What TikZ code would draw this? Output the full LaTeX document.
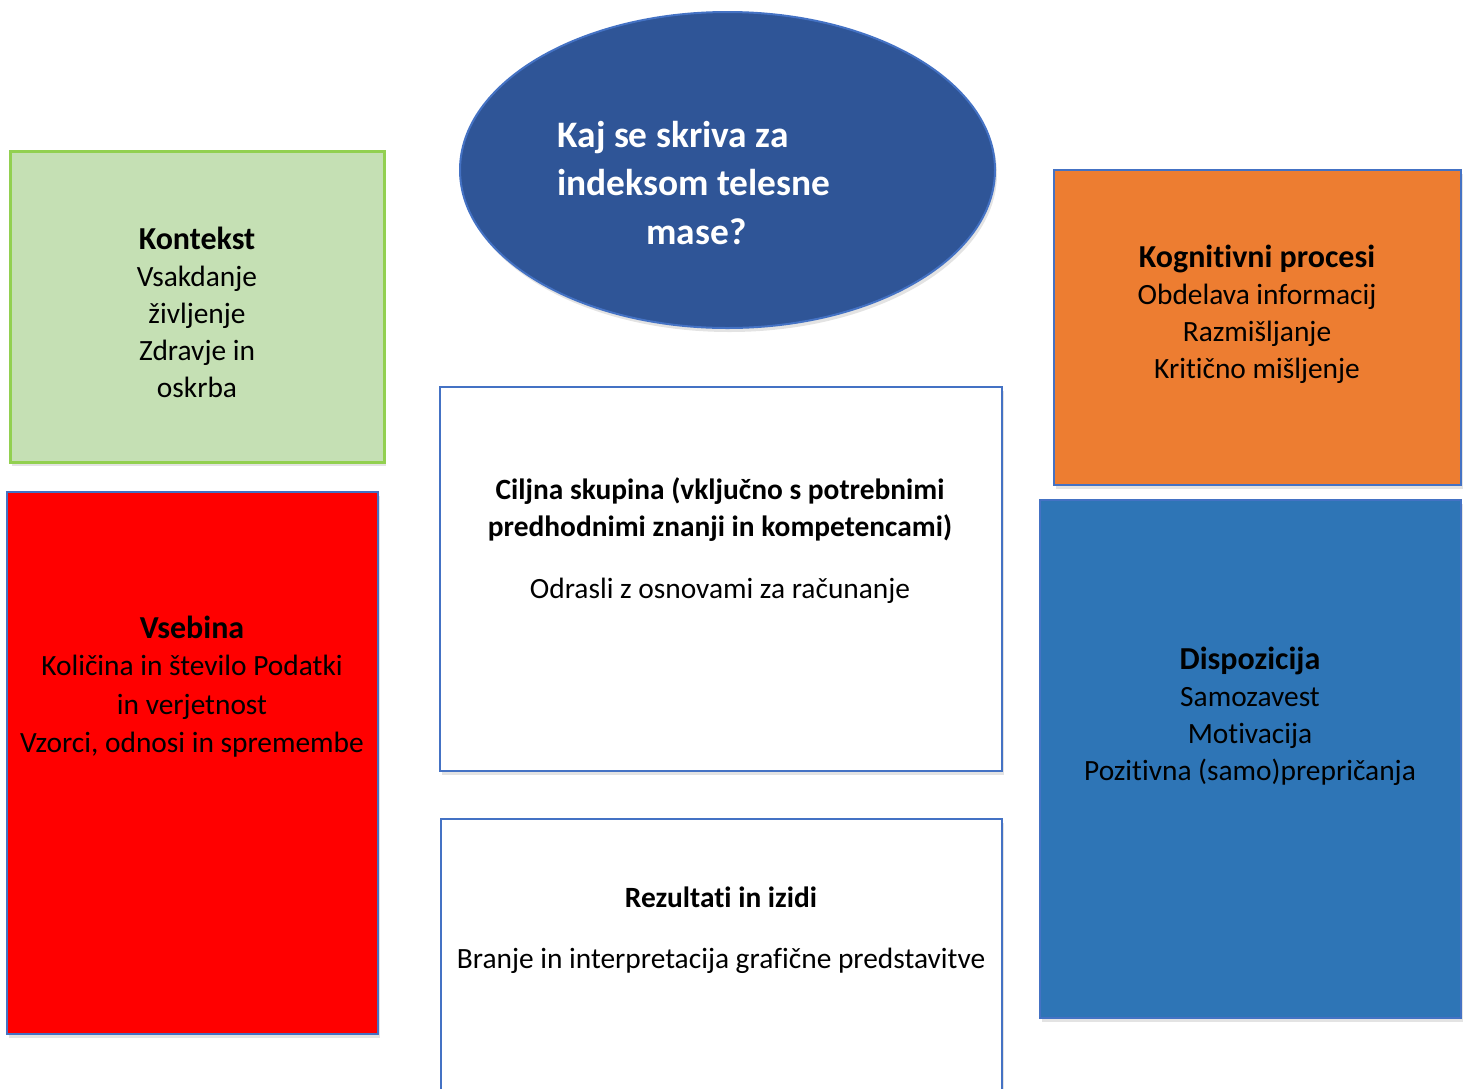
\documentclass[tikz,border=0pt]{standalone}
\usepackage{fontspec}
\setmainfont{Carlito}[Ligatures=NoCommon]
\usetikzlibrary{shapes.geometric, positioning, shadows}
\definecolor{colgreen}{HTML}{C5E0B4}
\definecolor{colgreenline}{HTML}{92D050}
\definecolor{colnavy}{HTML}{2F5597}
\definecolor{colframe}{HTML}{4472C4}
\definecolor{colorange}{HTML}{ED7D31}
\definecolor{colred}{HTML}{FF0000}
\definecolor{colblue}{HTML}{2E75B6}
\newcommand{\hd}[1]{{\fontsize{16}{18.5}\selectfont\bfseries #1}}

\begin{document}
\begin{tikzpicture}[x=0.5pt, y=-0.5pt,
  box/.style={rectangle, draw=colframe, line width=1pt, inner sep=0pt,
              drop shadow={opacity=0.22, shadow xshift=1pt, shadow yshift=-2pt}},
  ctxbox/.style={box, draw=colgreenline, line width=1.5pt, fill=colgreen},
  cogbox/.style={box, fill=colorange},
  contbox/.style={box, fill=colred},
  dispbox/.style={box, fill=colblue},
  plainbox/.style={box, fill=white},
  bubble/.style={ellipse, draw=colframe, line width=1pt, fill=colnavy, inner sep=0pt,
                 minimum width=267.5pt, minimum height=158pt,
                 drop shadow={opacity=0.22, shadow xshift=1pt, shadow yshift=-2pt}},
  txt/.style={align=center, inner sep=0pt, font=\fontsize{14.7}{18.5}\selectfont},
  ttl/.style={align=left, inner sep=0pt, text=white,
              font=\fontsize{18.7}{24.2}\selectfont\bfseries}
]
\useasboundingbox (0,0) rectangle (1467,1088);

% Central question
\node[bubble] (bmi) at (727.5,170) {};
\node[ttl] (bmiText) at (694,183)
    {Kaj se skriva za\\indeksom telesne\\\hspace*{44.5pt}mase?};

% Context (left top)
\node[ctxbox, minimum width=187pt, minimum height=155.5pt] (ctx) at (197,306.5) {};
\node[txt] (ctxText) at (197,312)
    {\hd{Kontekst}\\Vsakdanje\\življenje\\Zdravje in\\oskrba};

% Content (left bottom)
\node[contbox, minimum width=185.5pt, minimum height=271pt] (cont) at (192.5,763) {};
\node[txt] (contText) at (192,687)
    {\hd{Vsebina}\\Količina in število Podatki\\[0.8pt]in verjetnost\\[0.8pt]Vzorci, odnosi in spremembe};

% Target group (middle)
\node[plainbox, minimum width=281pt, minimum height=192pt] (grp) at (721,579) {};
\node[txt] (grpText) at (720,541)
    {\textbf{Ciljna skupina (vključno s potrebnimi}\\
     \textbf{predhodnimi znanji in kompetencami)}\\[12.5pt]
     Odrasli z osnovami za računanje};

% Results (middle bottom)
\node[plainbox, minimum width=280.5pt, minimum height=145.5pt] (res) at (721.5,964.5) {};
\node[txt] (resText) at (721,930.5)
    {\textbf{Rezultati in izidi}\\[12pt]
     Branje in interpretacija grafične predstavitve};

% Cognitive processes (right top)
\node[cogbox, minimum width=203.5pt, minimum height=157.5pt] (cog) at (1257.5,327.5) {};
\node[txt] (cogText) at (1257,314)
    {\hd{Kognitivni procesi}\\Obdelava informacij\\Razmišljanje\\Kritično mišljenje};

% Disposition (right bottom)
\node[dispbox, minimum width=210.5pt, minimum height=259pt] (disp) at (1250.5,759) {};
\node[txt] (dispText) at (1250,716)
    {\hd{Dispozicija}\\Samozavest\\Motivacija\\Pozitivna (samo)prepričanja};
\end{tikzpicture}
\end{document}
